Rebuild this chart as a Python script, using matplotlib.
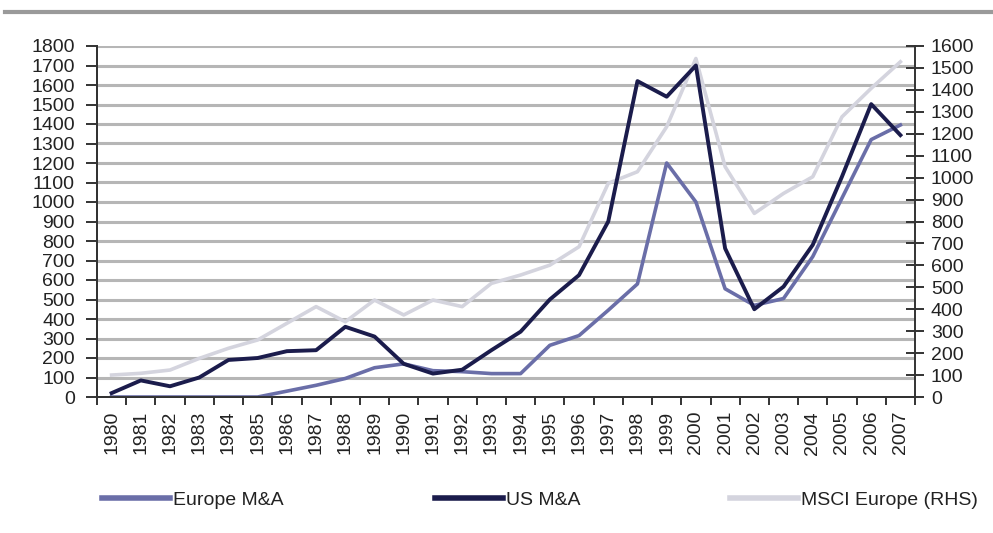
import numpy as np
import matplotlib.pyplot as plt
from matplotlib.lines import Line2D

plt.rcParams['font.family'] = ['Liberation Sans', 'DejaVu Sans']

years = [str(y) for y in range(1980, 2008)]

# M&A volumes (left axis)
europe_ma = [0, 0, 0, 0, 0, 0, 30, 60, 95, 150, 170, 135, 130, 120, 120, 265, 315, 445, 580, 1200, 1000,
             555, 470, 505, 720, 1020, 1320, 1395]
us_ma = [20, 85, 55, 100, 190, 200, 235, 240, 360, 310, 170, 120, 140, 240, 335, 500, 625, 900, 1620,
         1540, 1700, 762, 450, 566, 780, 1130, 1502, 1343]
# MSCI Europe index (right axis)
msci_europe = [100, 108, 123, 176, 222, 260, 336, 412, 343, 442, 374, 442, 412, 518, 556, 601, 685, 974,
               1027, 1232, 1543, 1050, 837, 928, 1004, 1277, 1407, 1528]

series_names = ['Europe M&A', 'US M&A', 'MSCI Europe (RHS)']

c_eu = '#6a6ea8'
c_us = '#1b1c4c'
c_msci = '#d4d4de'
c_axis = '#333333'
c_grid = '#b6b6b6'
c_text = '#222222'

fig = plt.figure(figsize=(9.93, 5.33), dpi=100)
ax = fig.add_axes([97 / 993, 1 - 397 / 533, (915 - 97) / 993, (397 - 46) / 533])
ax2 = ax.twinx()

x = np.arange(len(years))

# MSCI on the secondary axis, drawn behind the M&A lines
ax.set_zorder(2)
ax.patch.set_visible(False)
ax2.set_zorder(1)

ax2.plot(x, msci_europe, color=c_msci, lw=2.6, solid_joinstyle='round')
ax.plot(x, europe_ma, color=c_eu, lw=2.6, solid_joinstyle='round')
ax.plot(x, us_ma, color=c_us, lw=2.8, solid_joinstyle='round')

ax.set_xlim(-0.5, len(years) - 0.5)
ax.set_ylim(0, 1800)
ax2.set_ylim(0, 1600)

ax.set_yticks(np.arange(0, 1801, 100))
ax2.set_yticks(np.arange(0, 1601, 100))
for t in np.arange(100, 1801, 100):
    ax2.axhline(t * 1600 / 1800, color=c_grid, lw=2.2, zorder=0)

ax.set_xticks(np.arange(-0.5, len(years), 1))
ax.set_xticklabels([])
ax.set_xticks(x, minor=True)
ax.set_xticklabels(years, minor=True, rotation=90)

ax.tick_params(axis='x', which='major', direction='out', length=6, width=1.4, color=c_axis)
ax.tick_params(axis='x', which='minor', length=0, pad=10, labelsize=14, labelcolor=c_text)
ax.tick_params(axis='y', direction='out', length=8, width=1.4, color=c_axis,
               labelsize=14, labelcolor=c_text, pad=8)
ax2.tick_params(axis='y', direction='inout', length=13, width=1.4, color=c_axis,
                labelsize=14, labelcolor=c_text, pad=5)
ax2.tick_params(axis='x', length=0)

for a in (ax, ax2):
    a.spines['top'].set_visible(False)
    for s in ('left', 'right', 'bottom'):
        a.spines[s].set_color(c_axis)
        a.spines[s].set_linewidth(1.4)
ax.spines['right'].set_visible(False)

# rule across the top of the figure
fig.add_artist(Line2D([5 / 993, 1], [1 - 12 / 533] * 2, color='#9a9a9a', lw=3))

# one legend entry per column, spread under the chart
handles = [Line2D([], [], color=c, lw=4) for c in (c_eu, c_us, c_msci)]
for h, name, x0 in zip(handles, series_names, (102, 435, 730)):
    fig.legend([h], [name], frameon=False, loc='center left',
               bbox_to_anchor=(x0 / 993, 1 - 500 / 533), borderpad=0, borderaxespad=0,
               fontsize=14, handlelength=3.5, handletextpad=0.15, labelcolor=c_text)

fig.savefig('out.png', dpi=100)
